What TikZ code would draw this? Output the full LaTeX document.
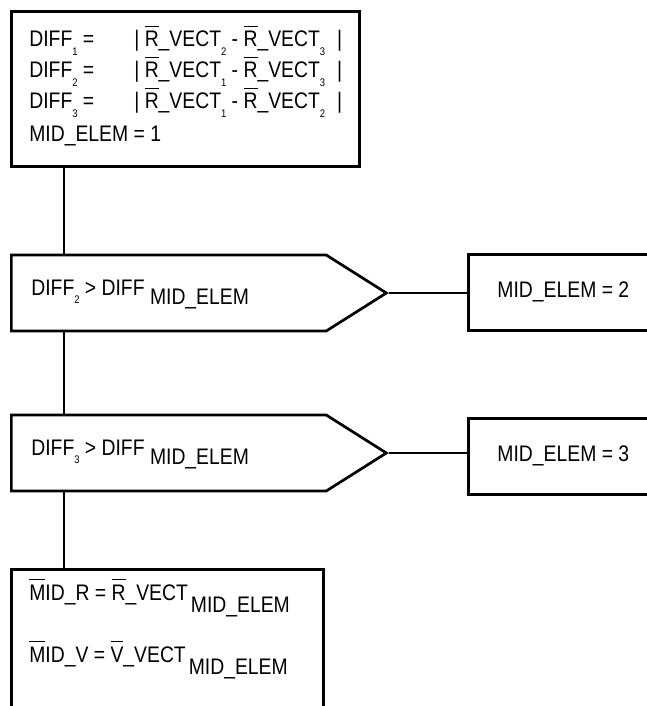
\documentclass[tikz,border=0pt]{standalone}
\usepackage{fontspec}
\setmainfont{Liberation Sans}[FakeStretch=0.86]
\usetikzlibrary{shapes.symbols}
\newlength\barw
\newcommand\ovb[1]{\settowidth\barw{#1}\rlap{\rule[0.88em]{\barw}{1.2pt}}#1}
\newcommand\dsub[1]{\raisebox{-8.5pt}{\fontsize{11}{11}\selectfont #1}}
\newcommand\msub[2][10pt]{\raisebox{-#1}{#2}}

\begin{document}
\begin{tikzpicture}[x=1pt,y=-1pt,line width=2.7pt,
 font=\fontsize{22.5}{31}\selectfont,
 box/.style={draw,inner sep=0pt,anchor=north west},
 test/.style={draw,signal,signal to=east,signal pointer angle=64.6,
  minimum width=375pt,minimum height=76pt,inner sep=0pt,anchor=west},
 txt/.style={inner sep=0pt,anchor=base west}]
\clip (0,0) rectangle (647,706);
\coordinate (spine) at (64,0);
% initial differences
\node[box,minimum width=348pt,minimum height=155pt] (init) at (10,10) {};
\node[txt] (initTxt) at (28,47) {\begin{tabular}[t]{@{}l@{}}
 \makebox[105pt][l]{DIFF\dsub{1} =}| \ovb{R}\_VECT\dsub{2} - \ovb{R}\_VECT\dsub{3}\hspace{12pt}|\\
 \makebox[105pt][l]{DIFF\dsub{2} =}| \ovb{R}\_VECT\dsub{1} - \ovb{R}\_VECT\dsub{3}\hspace{12pt}|\\
 \makebox[105pt][l]{DIFF\dsub{3} =}| \ovb{R}\_VECT\dsub{1} - \ovb{R}\_VECT\dsub{2}\hspace{12pt}|\\[2pt]
 MID\_ELEM = 1
 \end{tabular}};
% tests
\node[test] (d2) at (10,293) {};
\node[txt] (d2Txt) at (30,295) {DIFF\dsub{2} > DIFF \msub[9pt]{MID\_ELEM}};
\node[box,minimum width=190pt,minimum height=76pt] (m2) at (467,253) {MID\_ELEM = 2};
\node[test] (d3) at (10,453) {};
\node[txt] (d3Txt) at (30,455) {DIFF\dsub{3} > DIFF \msub[9pt]{MID\_ELEM}};
\node[box,minimum width=190pt,minimum height=76pt] (m3) at (467,417) {MID\_ELEM = 3};
% result
\node[box,minimum width=312pt,minimum height=200pt] (fin) at (10,568) {};
\node[txt] (finTxt) at (28,600) {\begin{tabular}[t]{@{}l@{}}
 \ovb{M}ID\_R = \ovb{R}\_VECT\hspace{3pt}\msub[12pt]{MID\_ELEM}\\[31pt]
 \ovb{M}ID\_V = \ovb{V}\_VECT\hspace{3pt}\msub[12pt]{MID\_ELEM}
 \end{tabular}};
\draw (init.south -| spine) -- (d2.north -| spine);
\draw (d2.south -| spine) -- (d3.north -| spine);
\draw (d3.south -| spine) -- (fin.north -| spine);
\draw (d2.east) -- (d2.east -| m2.west);
\draw (d3.east) -- (d3.east -| m3.west);
\end{tikzpicture}
\end{document}
